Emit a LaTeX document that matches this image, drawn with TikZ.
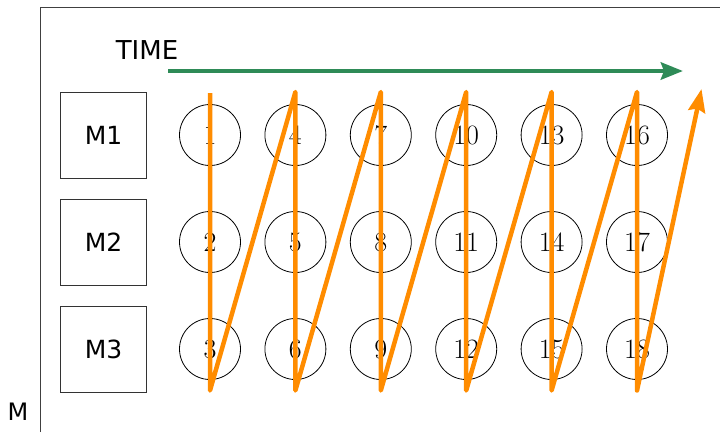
\documentclass[tikz,border=0pt]{standalone}
\usepackage{xcolor}
\usepackage{fontspec}
\usepackage{tikz}
\usetikzlibrary{arrows.meta}
\newfontfamily\labelfont{DejaVu Sans}
\definecolor{timegreen}{RGB}{46,139,87}
\definecolor{pathorange}{RGB}{255,140,0}

\begin{document}
\begin{tikzpicture}[x=1pt, y=-1pt, node distance=107pt,
    every node/.style={font=\fontsize{28}{32}\selectfont}]
    \useasboundingbox (0,0) rectangle (720,432);

    % Frame and labels
    \draw[black!75, line width=0.9pt] (40,432) |- (720,7);
    \node[font=\labelfont\fontsize{26}{30}\selectfont] (time) at (147,50) {TIME};
    \node[font=\labelfont\fontsize{24}{28}\selectfont] (mlab) at (18,412) {M};

    % Machines
    \node[draw=black!80, line width=0.9pt, rectangle, minimum size=86pt, font=\labelfont\fontsize{25}{30}\selectfont] (m1) at (103.5,135) {M1};
    \node[draw=black!80, line width=0.9pt, rectangle, minimum size=86pt, font=\labelfont\fontsize{25}{30}\selectfont, below of=m1] (m2) {M2};
    \node[draw=black!80, line width=0.9pt, rectangle, minimum size=86pt, font=\labelfont\fontsize{25}{30}\selectfont, below of=m2] (m3) {M3};

    % Jobs
    \node[draw, circle, minimum size=61pt, inner sep=0pt, line width=0.8pt] (j1) at (210,135) {1};
    \node[draw, circle, minimum size=61pt, inner sep=0pt, line width=0.8pt, below of=j1] (j2) {2};
    \node[draw, circle, minimum size=61pt, inner sep=0pt, line width=0.8pt, below of=j2] (j3) {3};
    \node[draw, circle, minimum size=61pt, inner sep=0pt, line width=0.8pt, right of=j1, node distance=85.4pt] (j4) {4};
    \node[draw, circle, minimum size=61pt, inner sep=0pt, line width=0.8pt, below of=j4] (j5) {5};
    \node[draw, circle, minimum size=61pt, inner sep=0pt, line width=0.8pt, below of=j5] (j6) {6};
    \node[draw, circle, minimum size=61pt, inner sep=0pt, line width=0.8pt, right of=j4, node distance=85.4pt] (j7) {7};
    \node[draw, circle, minimum size=61pt, inner sep=0pt, line width=0.8pt, below of=j7] (j8) {8};
    \node[draw, circle, minimum size=61pt, inner sep=0pt, line width=0.8pt, below of=j8] (j9) {9};
    \node[draw, circle, minimum size=61pt, inner sep=0pt, line width=0.8pt, right of=j7, node distance=85.4pt] (j10) {10};
    \node[draw, circle, minimum size=61pt, inner sep=0pt, line width=0.8pt, below of=j10] (j11) {11};
    \node[draw, circle, minimum size=61pt, inner sep=0pt, line width=0.8pt, below of=j11] (j12) {12};
    \node[draw, circle, minimum size=61pt, inner sep=0pt, line width=0.8pt, right of=j10, node distance=85.4pt] (j13) {13};
    \node[draw, circle, minimum size=61pt, inner sep=0pt, line width=0.8pt, below of=j13] (j14) {14};
    \node[draw, circle, minimum size=61pt, inner sep=0pt, line width=0.8pt, below of=j14] (j15) {15};
    \node[draw, circle, minimum size=61pt, inner sep=0pt, line width=0.8pt, right of=j13, node distance=85.4pt] (j16) {16};
    \node[draw, circle, minimum size=61pt, inner sep=0pt, line width=0.8pt, below of=j16] (j17) {17};
    \node[draw, circle, minimum size=61pt, inner sep=0pt, line width=0.8pt, below of=j17] (j18) {18};

    % Time arrow
    \coordinate (tstart) at (168,71);
    \coordinate (tend) at (683,71);
    \draw[-{Stealth[length=22pt, width=17pt, inset=3pt]}, timegreen, line width=4.7pt] (tstart) -- (tend);

    % Processing order
    \draw[-{Stealth[length=23pt, width=17pt, inset=3pt]}, pathorange, line width=4.5pt, line join=round]
        ([yshift=42pt]j1.center) -- ([yshift=-41.5pt]j3.center)
        -- ([yshift=43pt]j4.center) -- ([yshift=-41.5pt]j6.center)
        -- ([yshift=43pt]j7.center) -- ([yshift=-41.5pt]j9.center)
        -- ([yshift=43pt]j10.center) -- ([yshift=-41.5pt]j12.center)
        -- ([yshift=43pt]j13.center) -- ([yshift=-41.5pt]j15.center)
        -- ([yshift=43pt]j16.center) -- ([yshift=-41.5pt]j18.center)
        -- ([xshift=64.5pt, yshift=46pt]j16.center);
\end{tikzpicture}
\end{document}
